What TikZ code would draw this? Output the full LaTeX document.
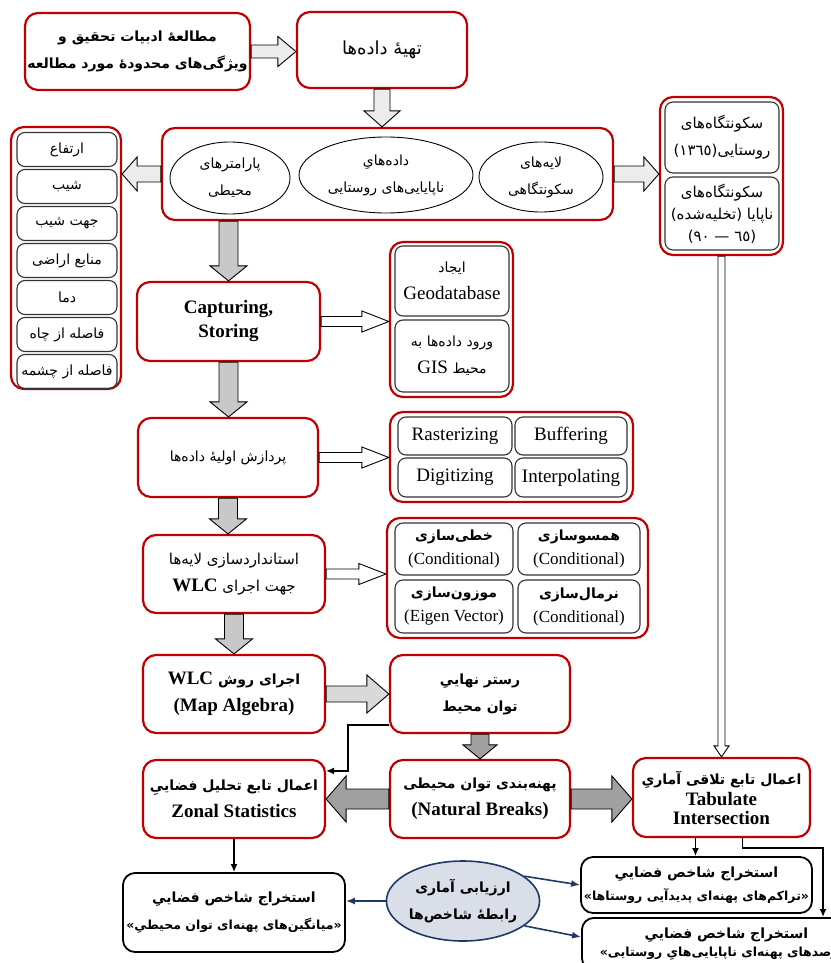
\documentclass[tikz,border=0pt]{standalone}
\usepackage{fontspec}
\setmainfont{Liberation Serif}
\newfontfamily\farsi[Script=Arabic]{DejaVu Sans}
\usetikzlibrary{shapes.geometric,calc,arrows.meta}
\TeXXeTstate=1

\definecolor{frred}{RGB}{192,0,0}
\definecolor{lgray}{RGB}{236,236,236}
\definecolor{kgray}{RGB}{217,217,217}
\definecolor{mgray}{RGB}{200,200,200}
\definecolor{dgray}{RGB}{160,160,160}
\definecolor{navy}{RGB}{31,56,100}
\definecolor{ovalfill}{RGB}{218,222,232}

\newcommand{\fa}[2][14]{{\farsi\fontsize{#1}{27}\selectfont\beginR#2\endR}}
\newcommand{\lat}[1]{\beginL{\rmfamily\fontsize{19}{27}\selectfont#1}\endL}

\begin{document}
\begin{tikzpicture}[x=1pt,y=-1pt,
  redbox/.style={draw=frred,line width=2.2pt,rounded corners=13pt,fill=white,align=center,inner sep=0pt,font=\fontsize{19}{27}\selectfont},
  grpbox/.style={draw=frred,line width=2.2pt,rounded corners=13pt,inner sep=0pt},
  cellbox/.style={draw=black!80,line width=1.1pt,rounded corners=8pt,align=center,inner sep=0pt,font=\fontsize{19}{27}\selectfont},
  blkbox/.style={draw=black,line width=1.8pt,rounded corners=12pt,fill=white,align=center,inner sep=0pt,font=\fontsize{19}{27}\selectfont\bfseries},
  oval/.style={ellipse,draw,line width=0.9pt,align=center,inner sep=0pt,font=\fontsize{19}{27}\selectfont},
  bold/.style={font=\fontsize{19}{27}\selectfont\bfseries},
  sz/.style 2 args={minimum width=#1pt,minimum height=#2pt},
  blk/.style n args={3}{to path={let \p1=(\tikztostart),\p2=(\tikztotarget),\n1={atan2(\y2-\y1,\x2-\x1)} in
    ($(\p1)+(\n1+90:#1)$) -- ($(\p2)+(\n1+180:#3)+(\n1+90:#1)$) -- ($(\p2)+(\n1+180:#3)+(\n1+90:#2)$) -- (\p2)
    -- ($(\p2)+(\n1+180:#3)+(\n1-90:#2)$) -- ($(\p2)+(\n1+180:#3)+(\n1-90:#1)$) -- ($(\p1)+(\n1-90:#1)$) -- cycle}},
  blkarr/.style={draw=black,line width=0.9pt},
  blkline/.style={draw=black,line width=1.8pt,-{Latex[length=8pt,width=7pt]}},
  navyarr/.style={draw=navy,line width=1.6pt,-{Latex[length=9pt,width=7pt]}}]
\useasboundingbox (0,0) rectangle (830,963);

% top row
\node[redbox,bold,sz={225}{77}] (lit) at (137.5,51.5) {\fa{مطالعهٔ ادبیات تحقیق و}\\\fa{ویژگی^^^^200cهای محدودهٔ مورد مطالعه}};
\node[redbox,sz={170}{76}] (prep) at (382,50) {\fa[18]{تهیهٔ داده^^^^200cها}};

% data group
\node[grpbox,sz={451}{92}] (grp) at (387.5,174) {};
\node[oval,sz={120}{72}] (envp) at (230,178) {\fa{پارامترهای}\\\fa{محیطی}};
\node[oval,sz={174}{76}] (unst) at (386,175) {\fa{داده^^^^200cهایِ}\\\fa{ناپایایی^^^^200cهای روستایی}};
\node[oval,sz={124}{70}] (setl) at (541,177) {\fa{لایه^^^^200cهای}\\\fa{سکونتگاهی}};

% parameters column
\node[grpbox,sz={110}{262}] (params) at (66,258) {};
\foreach \lbl [count=\i] in {ارتفاع,شیب,جهت شیب,منابع اراضی,دما,فاصله از چاه,فاصله از چشمه}
  \node[cellbox,sz={100}{34}] (par\i) at (67,112.5+37*\i) {\fa{\lbl}};

% settlements column
\node[grpbox,sz={123}{158}] (settl) at (721.5,176) {};
\node[cellbox,sz={114}{71}] (rur) at (722,137.5) {\fa[15]{سکونتگاه^^^^200cهای}\\\fa[15]{روستایی(١٣٦٥)}};
\node[cellbox,sz={114}{73}] (aband) at (722,213.5) {\fa[15]{سکونتگاه^^^^200cهای}\\[-5pt]\fa[15]{ناپایا (تخلیه^^^^200cشده)}\\[-5pt]\fa[15]{(٦٥ — ٩٠)}};

% main column
\node[redbox,bold,sz={183}{79}] (capt) at (228.5,321.5) {Capturing,\\[-3pt]Storing};
\node[grpbox,sz={123}{155}] (gis) at (451.5,319.5) {};
\node[cellbox,sz={114}{70}] (geo) at (452,281) {\fa{ایجاد}\\Geodatabase};
\node[cellbox,sz={114}{72}] (inp) at (452,356) {\fa{ورود داده^^^^200cها به}\\\fa{محیط \lat{GIS}}};

\node[redbox,sz={180}{79}] (proc) at (228,457.5) {\fa{پردازش اولیهٔ داده^^^^200cها}};
\node[grpbox,sz={243}{90}] (ops) at (511.5,457) {};
\node[cellbox,sz={114}{38}] (rast) at (455,436) {Rasterizing};
\node[cellbox,sz={112}{38}] (buff) at (571,436) {Buffering};
\node[cellbox,sz={114}{39}] (digi) at (455,477.5) {Digitizing};
\node[cellbox,sz={112}{39}] (intp) at (571,477.5) {Interpolating};

\node[redbox,sz={182}{78}] (std) at (234,574) {\fa[15]{استانداردسازی لایه^^^^200cها}\\\fa[15]{جهت اجرای \lat{\bfseries WLC}}};
\node[grpbox,sz={261}{120}] (fuzz) at (517.5,578) {};
\node[cellbox,sz={118}{52},font=\fontsize{17}{24}\selectfont] (lin) at (454,549) {{\bfseries\fa{خطی^^^^200cسازی}}\\(Conditional)};
\node[cellbox,sz={122}{52},font=\fontsize{17}{24}\selectfont] (dir) at (579,549) {{\bfseries\fa{همسوسازی}}\\(Conditional)};
\node[cellbox,sz={118}{53},font=\fontsize{17}{24}\selectfont] (wgt) at (454,606.5) {{\bfseries\fa{موزون^^^^200cسازی}}\\(Eigen Vector)};
\node[cellbox,sz={122}{53},font=\fontsize{17}{24}\selectfont] (nrm) at (579,606.5) {{\bfseries\fa{نرمال^^^^200cسازی}}\\(Conditional)};

\node[redbox,bold,sz={182}{78}] (wlc) at (234,694) {\fa{اجرای روش \lat{WLC}}\\(Map Algebra)};
\node[redbox,bold,sz={180}{78}] (raster) at (480,694) {\fa{رستر نهاییِ}\\\fa{توان محیط}};
\node[redbox,bold,sz={180}{78}] (breaks) at (480,799) {\fa{پهنه^^^^200cبندی توان محیطی}\\(Natural Breaks)};
\node[redbox,bold,sz={182}{78}] (zonal) at (234,799) {\fa{اعمال تابع تحلیل فضاییِ}\\Zonal Statistics};
\node[redbox,bold,sz={177}{79}] (tab) at (721.5,797.5) {\fa{اعمال تابع تلاقی آماریِ}\\[-6pt]Tabulate\\[-8pt]Intersection};

% bottom row
\node[blkbox,sz={222}{79}] (meanidx) at (234,912.5) {\fa{استخراج شاخص فضاییِ}\\\fa[12.5]{«میانگین^^^^200cهای پهنه^^^^200cای توان محیطیِ»}};
\node[oval,bold,draw=navy,line width=1.6pt,fill=ovalfill,sz={136}{80}] (eval) at (463,901) {\fa{ارزیابی آماری}\\\fa{رابطهٔ شاخص^^^^200cها}};
\node[blkbox,sz={231}{56}] (dens) at (696.5,885) {\fa{استخراج شاخص فضاییِ}\\[-4pt]\fa[12.5]{«تراکم^^^^200cهای پهنه^^^^200cای پدیدآیی روستاها»}};
\node[blkbox,sz={289}{52},anchor=north west] (pct) at (581,917) {\fa{استخراج شاخص فضاییِ}\\[-9pt]\fa[12.5]{«درصدهای پهنه^^^^200cای ناپایایی^^^^200cهایِ روستایی»}};

% block arrows
\draw[blkarr,fill=lgray] (lit.east) to[blk={6.5pt}{15pt}{18pt}] (lit.east -| prep.west);
\draw[blkarr,fill=lgray] (prep.south) to[blk={8pt}{18pt}{16pt}] (prep.south |- grp.north);
\draw[blkarr,fill=lgray] (grp.west) to[blk={8pt}{17pt}{15pt}] (grp.west -| params.east);
\draw[blkarr,fill=lgray] (grp.east) to[blk={8pt}{17pt}{15pt}] (grp.east -| settl.west);
\draw[blkarr,fill=mgray] (capt.north |- grp.south) to[blk={9.5pt}{18.5pt}{15pt}] (capt.north);
\draw[blkarr,fill=mgray] (capt.south) to[blk={9.5pt}{18.5pt}{15pt}] (capt.south |- proc.north);
\draw[blkarr,fill=mgray] (proc.south) to[blk={9.5pt}{18.5pt}{15pt}] (proc.south |- std.north);
\draw[blkarr,fill=mgray] (std.south) to[blk={9.5pt}{18.5pt}{15pt}] (std.south |- wlc.north);
\draw[blkarr,fill=white] (capt.east) to[blk={5pt}{10.5pt}{27pt}] (capt.east -| gis.west);
\draw[blkarr,fill=white] (proc.east) to[blk={5pt}{10.5pt}{27pt}] (proc.east -| ops.west);
\draw[blkarr,fill=white] (std.east) to[blk={5pt}{10.5pt}{27pt}] (std.east -| fuzz.west);
\draw[blkarr,fill=kgray] (wlc.east) to[blk={8pt}{19pt}{22pt}] (wlc.east -| raster.west);
\draw[blkarr,fill=dgray] (raster.south) to[blk={9pt}{17pt}{14pt}] (raster.south |- breaks.north);
\draw[blkarr,fill=dgray] (breaks.west) to[blk={10pt}{23pt}{20pt}] (breaks.west -| zonal.east);
\draw[blkarr,fill=dgray] (breaks.east) to[blk={10pt}{23pt}{20pt}] (breaks.east -| tab.west);
\draw[blkarr,fill=white] (settl.south) to[blk={3.5pt}{7.5pt}{11pt}] (settl.south |- tab.north);

% line connectors
\draw[blkline,line width=1.5pt] ($(raster.south west)+(0,-9)$) -| ($(zonal.north east)+(22,12)$) -- ($(zonal.north east)+(0,12)$);
\draw[blkline] (zonal.south) -- (zonal.south |- meanidx.north);
\coordinate (tabl) at ($(tab.south)+(-26,0)$);
\coordinate (tabr) at ($(tab.south)+(21,0)$);
\coordinate (pctin) at ($(pct.north west)+(242,0)$);
\draw[blkline] (tabl) -- (tabl |- dens.north);
\draw[blkline] (tabr) -- ++(0,10) -| (pctin);
\draw[navyarr] (eval.west) -- (eval.west -| meanidx.east);
\draw[navyarr] (eval.22) -- (dens.west);
\draw[navyarr] (eval.-22) -- ($(pct.north west)+(0,20)$);
\end{tikzpicture}
\end{document}
